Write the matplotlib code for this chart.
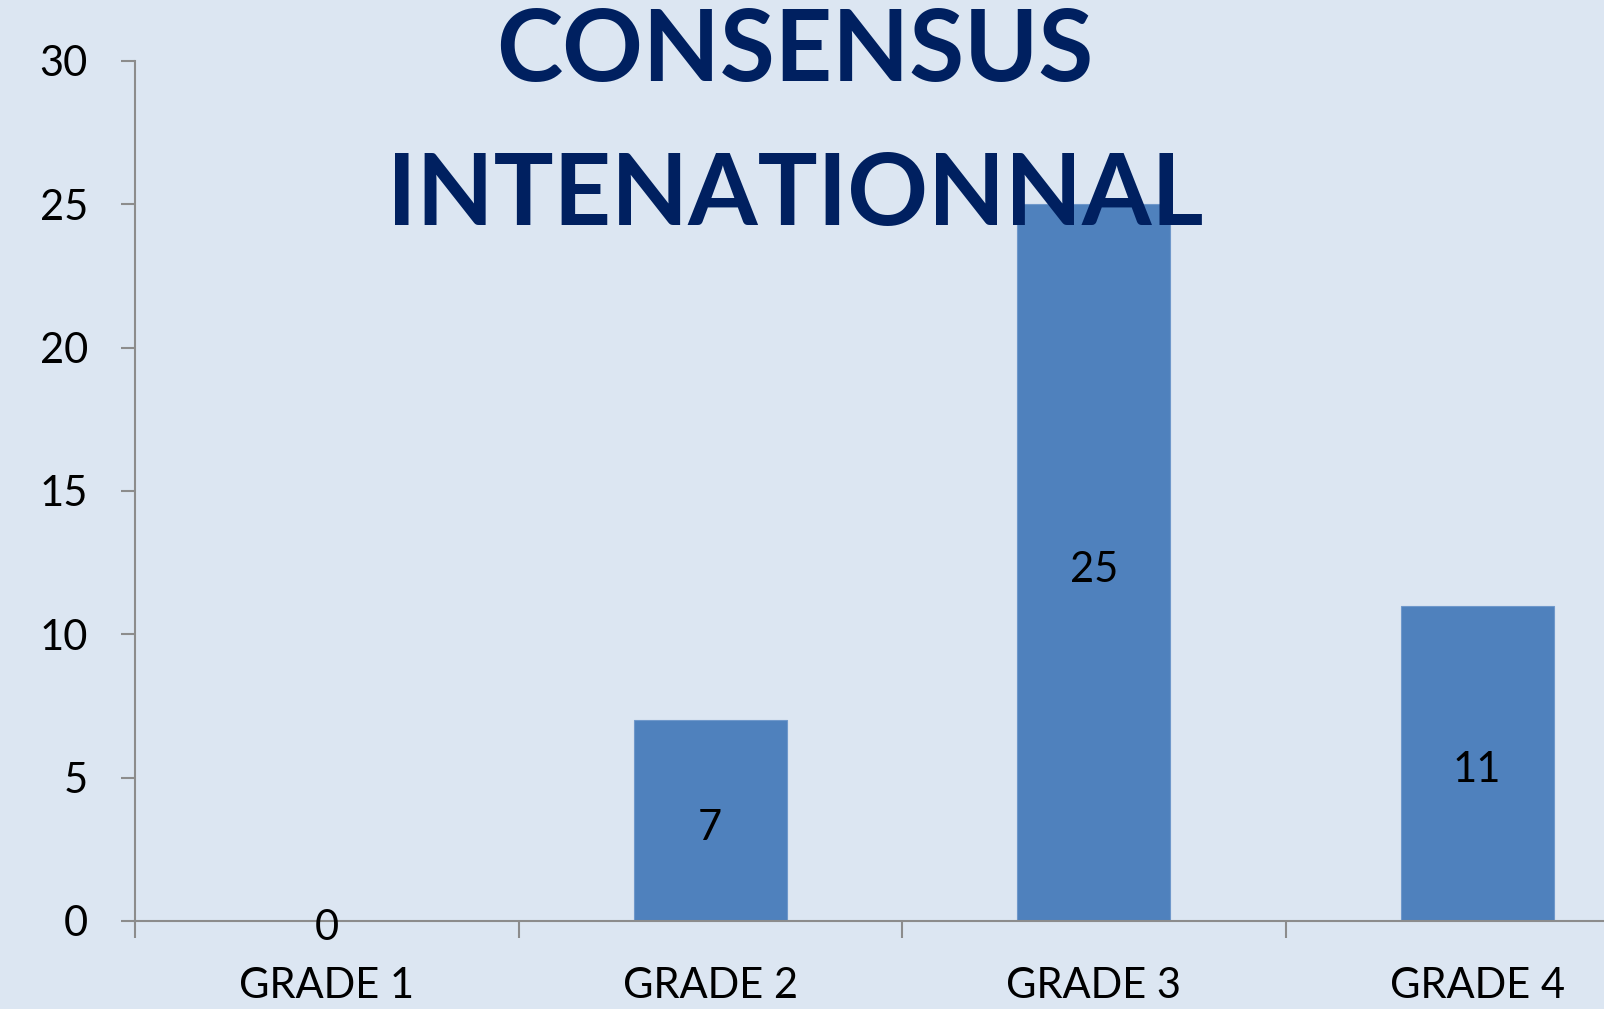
import matplotlib
matplotlib.use("Agg")
import matplotlib.pyplot as plt

categories = ["GRADE 1", "GRADE 2", "GRADE 3", "GRADE 4"]
values = [0, 7, 25, 11]
yticks = [0, 5, 10, 15, 20, 25, 30]
title_lines = ["CONSENSUS", "INTENATIONNAL"]

BG = "#DCE6F2"
BAR = "#4F81BD"
TITLE = "#002060"
AXC = "#8C8C8C"
FONT = "Lato"

fig = plt.figure(figsize=(16.04, 10.09), dpi=100, facecolor=BG)
ax = fig.add_axes([135/1604, 88/1009, 1534/1604, 860/1009])
ax.set_facecolor(BG)

x = list(range(len(categories)))
bars = ax.bar(x, values, width=0.4, color=BAR, edgecolor="#6F98CB", linewidth=0.8, zorder=2)
for xi, v in zip(x, values):
    ax.annotate(str(v), (xi, v / 2), xytext=(0, -5), textcoords="offset points",
                ha="center", va="center", fontsize=30,
                family=FONT, color="black", zorder=3)

ax.set_xlim(-0.5, len(categories) - 0.5)
ax.set_ylim(0, 30)
ax.set_yticks(yticks)
ax.set_yticklabels([str(t) for t in yticks], fontsize=30, family=FONT)
ax.set_xticks(x)
ax.set_xticklabels(categories, fontsize=30, family=FONT)
ax.set_xticks([i - 0.5 for i in range(len(categories) + 1)], minor=True)
ax.tick_params(axis="x", which="major", length=0, pad=33)
ax.tick_params(axis="x", which="minor", length=12, width=1.5, color=AXC, direction="out")
ax.tick_params(axis="y", length=10, width=1.5, color=AXC, direction="out", pad=24)

for s in ["top", "right"]:
    ax.spines[s].set_visible(False)
for s in ["left", "bottom"]:
    ax.spines[s].set_color(AXC)
    ax.spines[s].set_linewidth(1.5)
ax.spines["left"].set_zorder(1)

fig.text(795/1604, 1 - 53/1009, title_lines[0], ha="center", va="center",
         fontsize=72, fontweight="bold", family=FONT, color=TITLE)
fig.text(795/1604, 1 - 196/1009, title_lines[1], ha="center", va="center",
         fontsize=72, fontweight="bold", family=FONT, color=TITLE)

fig.savefig("out.png", dpi=100, facecolor=BG)
